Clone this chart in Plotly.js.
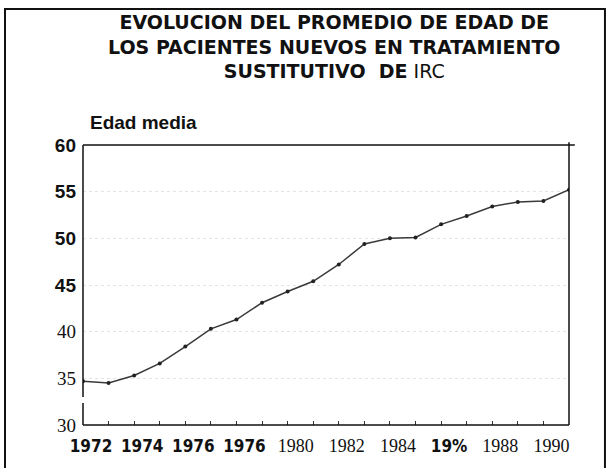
<!DOCTYPE html>
<html>
<head>
<meta charset="utf-8">
<script src="https://cdn.plot.ly/plotly-3.0.1.min.js"></script>
<style>html,body{margin:0;padding:0;background:#fff;}#chart{width:610px;height:468px;}</style>
</head>
<body>
<div id="chart"></div>
<script>
// Data
const years = [1972,1973,1974,1975,1976,1977,1978,1979,1980,1981,1982,1983,1984,1985,1986,1987,1988,1989,1990,1991];
const edadMedia = [34.7,34.5,35.3,36.6,38.4,40.3,41.3,43.1,44.3,45.4,47.2,49.4,50.0,50.1,51.5,52.4,53.4,53.9,54.0,55.2];
const xTickVals = [1972,1974,1976,1978,1980,1982,1984,1986,1988,1990];
const xTickLabels = ["1972","1974","1976","1976","1980","1982","1984","19%","1988","1990"];
const xBold = [true,true,true,true,false,false,false,true,false,false];
const yTickVals = [30,35,40,45,50,55,60];
const yTickLabels = ["30","35","40","45","50","55","60"];
const yBold = [false,false,false,true,true,true,true];
const titleLines = ["EVOLUCION DEL PROMEDIO DE EDAD DE","LOS PACIENTES NUEVOS EN TRATAMIENTO","SUSTITUTIVO  DE"];
const titleTail = "IRC";
const yLabel = "Edad media";

const boldX = t => '<b><span style="font-family:DejaVu Sans Condensed, sans-serif;font-size:17px">' + t + '</span></b>';
const boldY = t => '<b><span style="font-family:Liberation Sans, Arial, sans-serif">' + t + '</span></b>';

const trace = {
  x: years, y: edadMedia, type: 'scatter', mode: 'lines+markers',
  line: {color: '#3a3a3a', width: 1.5},
  marker: {color: '#222', size: 4},
  hoverinfo: 'skip', showlegend: false
};

const layout = {
  width: 610, height: 468,
  margin: {l: 83, r: 41, t: 145, b: 43, pad: 0},
  paper_bgcolor: '#fff', plot_bgcolor: '#fff',
  font: {family: 'Liberation Serif, serif', color: '#111'},
  xaxis: {
    range: [1972, 1991], tickmode: 'array', tickvals: xTickVals,
    ticktext: xTickLabels.map((t,i) => xBold[i] ? boldX(t) : t),
    tickfont: {size: 18, color: '#111'},
    ticks: 'inside', ticklen: 4, tickcolor: '#333',
    minor: {tickmode: 'linear', tick0: 1972, dtick: 1, ticks: 'inside', ticklen: 4, tickcolor: '#333'},
    ticklabelshift: 8, ticklabelstandoff: 8,
    showgrid: false, zeroline: false, showline: false, fixedrange: true
  },
  yaxis: {
    range: [30, 60], tickmode: 'array', tickvals: yTickVals,
    ticktext: yTickLabels.map((t,i) => yBold[i] ? boldY(t) : t),
    tickfont: {size: 19, color: '#111'},
    ticks: '', ticklabelstandoff: 6,
    showgrid: true, gridcolor: '#e4e4e4', griddash: 'dot', gridwidth: 1,
    zeroline: false, showline: false, fixedrange: true
  },
  shapes: [
    {type:'line', xref:'paper', yref:'paper', x0:0, x1:1, y0:0, y1:0, line:{color:'#111', width:1.5}},
    {type:'line', xref:'paper', yref:'paper', x0:0, x1:1.012, y0:1, y1:1, line:{color:'#111', width:1.5}},
    {type:'line', xref:'paper', yref:'paper', x0:1, x1:1, y0:0, y1:1.01, line:{color:'#111', width:1.5}},
    {type:'line', xref:'paper', yref:'paper', x0:0, x1:0, y0:0, y1:0.079, line:{color:'#111', width:1.5}},
    {type:'line', xref:'paper', yref:'paper', x0:0, x1:0, y0:0.1, y1:1, line:{color:'#111', width:1.5}},
    {type:'rect', xref:'paper', yref:'paper', x0:-0.1605, x1:1.074, y0:-0.25, y1:1.4857, line:{color:'#111', width:2}}
  ],
  annotations: [
    {xref:'paper', yref:'paper', x:0.5185, y:1.35, xanchor:'center', yanchor:'middle', showarrow:false,
     align:'center',
     text: '<b>' + titleLines[0] + '</b><br><b>' + titleLines[1] + '</b><br><b>' + titleLines[2] + '</b> ' + titleTail,
     font:{family:'DejaVu Sans, sans-serif', size:19, color:'#111'}},
    {xref:'paper', yref:'paper', x:0.0103, y:1.0786, xanchor:'left', yanchor:'middle', showarrow:false,
     text:'<b>' + yLabel + '</b>',
     font:{family:'Liberation Sans, Arial, sans-serif', size:19, color:'#111'}}
  ]
};

Plotly.newPlot('chart', [trace], layout, {staticPlot: true, displayModeBar: false});
</script>
</body>
</html>
